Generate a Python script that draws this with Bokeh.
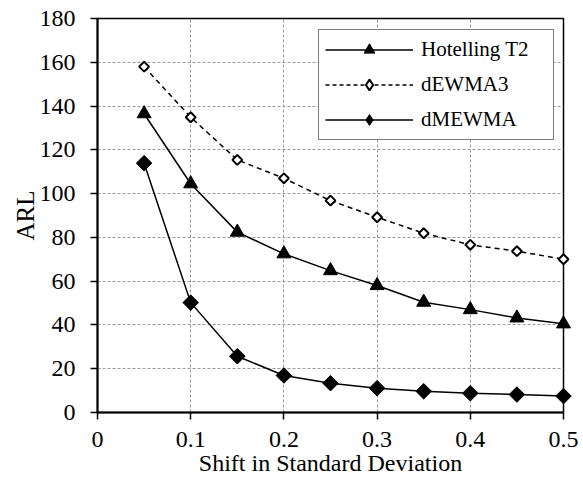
import math
from bokeh.plotting import figure
from bokeh.models import Range1d, FixedTicker, Legend, LegendItem, ColumnDataSource
from bokeh.embed import file_html
from bokeh.resources import INLINE

shift = [0.05, 0.10, 0.15, 0.20, 0.25, 0.30, 0.35, 0.40, 0.45, 0.50]
hotelling = [136.5, 104.5, 82.4, 72.5, 64.8, 58.0, 50.4, 47.0, 43.2, 40.5]
dewma3 = [158.0, 134.9, 115.4, 107.0, 96.8, 89.2, 81.9, 76.6, 73.7, 70.0]
dmewma = [113.9, 50.2, 25.7, 16.9, 13.4, 11.1, 9.7, 8.8, 8.2, 7.5]

x_ticks = [0, 0.1, 0.2, 0.3, 0.4, 0.5]
x_tick_labels = ["0", "0.1", "0.2", "0.3", "0.4", "0.5"]
y_ticks = [0, 20, 40, 60, 80, 100, 120, 140, 160, 180]

FONT = "Liberation Serif"

p = figure(width=583, height=481, output_backend="svg", toolbar_location=None,
           x_range=Range1d(0, 0.5), y_range=Range1d(0, 180),
           min_border_left=97, min_border_right=20, min_border_top=18,
           min_border_bottom=69)
# range used only by the legend-sample renderers (kept outside the frame)
p.extra_x_ranges = {"legend_only": Range1d(-10, -9)}

p.background_fill_color = "white"
p.border_fill_color = "white"
p.outline_line_color = "black"
p.outline_line_width = 1.5

for ax in (p.xaxis[0], p.yaxis[0]):
    ax.axis_line_color = "black"
    ax.axis_line_width = 2
    ax.major_tick_line_color = "black"
    ax.major_tick_line_width = 1.5
    ax.major_tick_out = 7
    ax.major_tick_in = 0
    ax.minor_tick_line_color = None
    ax.major_label_text_font = FONT
    ax.major_label_text_font_size = "24px"
    ax.major_label_text_color = "black"
    ax.axis_label_text_font = FONT
    ax.axis_label_text_font_style = "normal"
    ax.axis_label_text_color = "black"

p.xaxis.ticker = FixedTicker(ticks=x_ticks)
p.xaxis.major_label_overrides = {t: l for t, l in zip(x_ticks, x_tick_labels)}
p.xaxis.axis_label = "Shift in Standard Deviation"
p.xaxis.axis_label_text_font_size = "24px"
p.xaxis.axis_label_standoff = 0
p.xaxis.major_label_standoff = 12

p.yaxis.ticker = FixedTicker(ticks=y_ticks)
p.yaxis.axis_label = "ARL"
p.yaxis.axis_label_text_font_size = "25px"
p.yaxis.axis_label_standoff = -2
p.yaxis.major_label_standoff = 15

for g in (p.xgrid[0], p.ygrid[0]):
    g.grid_line_color = "#9a9a9a"
    g.grid_line_dash = "3 2"
    g.grid_line_width = 1

src = ColumnDataSource(data=dict(x=shift, h=hotelling, d3=dewma3, dm=dmewma))

# data marks
p.line("x", "h", source=src, line_color="black", line_width=1.5)
p.scatter("x", "h", source=src, marker="triangle", size=14,
          fill_color="black", line_color="black", level="annotation")
p.line("x", "d3", source=src, line_color="black", line_width=1.5, line_dash="5 4")
p.scatter("x", "d3", source=src, marker="square", angle=math.pi / 4, size=7,
          fill_color="white", line_color="black", line_width=2, level="annotation")
p.line("x", "dm", source=src, line_color="black", line_width=1.5)
p.scatter("x", "dm", source=src, marker="square", angle=math.pi / 4, size=11,
          fill_color="black", line_color="black", level="annotation")

# legend sample renderers (drawn outside the visible frame)
kw = dict(source=src, x_range_name="legend_only")
lg1 = p.line("x", "h", line_color="black", line_width=1.5, **kw)
lm1 = p.scatter("x", "h", marker="triangle", fill_color="black",
                line_color="black", **kw)
lg2 = p.line("x", "d3", line_color="black", line_width=1.5, line_dash="4 3", **kw)
lm2 = p.scatter("x", "d3", marker="diamond", fill_color="white",
                line_color="black", line_width=2, **kw)
lg3 = p.line("x", "dm", line_color="black", line_width=1.5, **kw)
lm3 = p.scatter("x", "dm", marker="diamond", fill_color="black",
                line_color="black", **kw)

legend = Legend(items=[
    LegendItem(label="Hotelling T2", renderers=[lg1, lm1], index=0),
    LegendItem(label="dEWMA3", renderers=[lg2, lm2], index=0),
    LegendItem(label="dMEWMA", renderers=[lg3, lm3], index=0),
], location=(221, 272))
legend.label_text_font = FONT
legend.label_text_font_size = "21px"
legend.label_text_color = "black"
legend.border_line_color = "black"
legend.border_line_width = 1.5
legend.background_fill_color = "white"
legend.background_fill_alpha = 1
legend.glyph_width = 88
legend.glyph_height = 27
legend.label_height = 27
legend.label_width = 126
legend.label_standoff = 8
legend.padding = 6
legend.spacing = 8
legend.margin = 0
p.add_layout(legend, "center")

open("out.html", "w").write(file_html(p, INLINE))
